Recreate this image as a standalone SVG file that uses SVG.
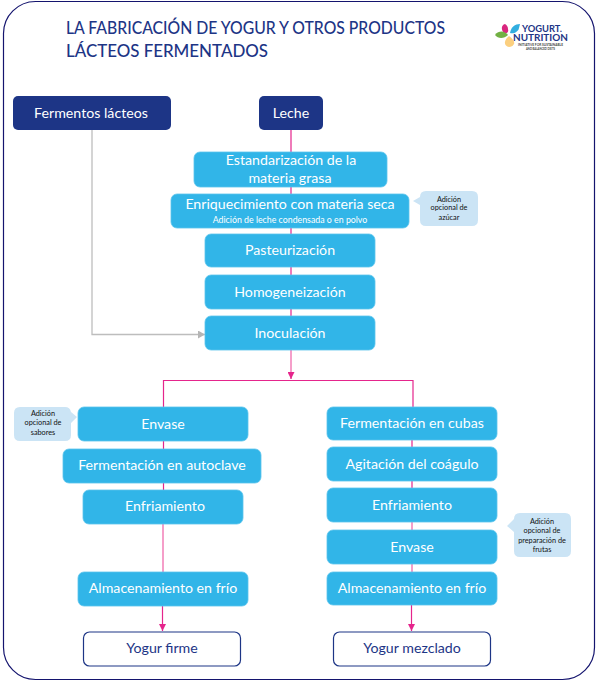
<svg xmlns="http://www.w3.org/2000/svg" width="597" height="687" viewBox="0 0 597 687">
<style>
text{font-family:"Lato","Open Sans","Liberation Sans",sans-serif;text-anchor:middle}
.dark{fill:#1d3586}
.blue{fill:#31b5e8;stroke:#5cc4ec;stroke-width:.8}
.t{fill:#fff;font-size:14.2px}
.bub{fill:#cbe4f5}
.b{fill:#111;font-size:7.3px}
.out{fill:#fff;stroke:#1d3586;stroke-width:1.2}
.d{fill:#1d3586;font-size:14.2px}
.pk{fill:none;stroke:#e5258c;stroke-width:1.2}
.lp{fill:none;stroke:#f27fb8;stroke-width:1.5}
</style>
<defs>
<marker id="ap" markerWidth="8" markerHeight="7" refX="7" refY="3.5" orient="auto" markerUnits="userSpaceOnUse"><path d="M0 0L7 3.5L0 7Z" fill="#e5258c"/></marker>
<marker id="ag" markerWidth="8" markerHeight="8" refX="7" refY="4" orient="auto" markerUnits="userSpaceOnUse"><path d="M0 0L7 4L0 8Z" fill="#b5b5b5"/></marker>
</defs>
<rect x="3.500" y="1.500" width="591" height="678" rx="32" fill="#fff" stroke="#14146e" stroke-width="1.200"/>
<g id="title" class="dark"><text x="66" y="34" style="text-anchor:start;font-size:17.500px;font-weight:500" textLength="379" lengthAdjust="spacingAndGlyphs">LA FABRICACIÓN DE YOGUR Y OTROS PRODUCTOS</text><text x="66" y="57" style="text-anchor:start;font-size:17.500px;font-weight:500" textLength="202" lengthAdjust="spacingAndGlyphs">LÁCTEOS FERMENTADOS</text></g>
<g id="logo">
<path d="M505 24C501 25 501 30 504 33C507 34 509 32 508 29C508 27 507 25 505 24Z" fill="#d9277f"/>
<path d="M520 24C515 24 511 27 510 33C514 34 518 32 519 28Z" fill="#31aee0"/>
<path d="M495 35C499 30 505 31 508 35C504 39 498 39 495 35Z" fill="#72b043"/>
<path d="M509 47C504 46 503 41 509 36C513 39 515 42 514 44C513 46 511 47 509 47Z" fill="#fbcf7f"/>
<text x="542" y="31.500" style="font-size:9px;font-weight:700;fill:#1d3586" textLength="40" lengthAdjust="spacingAndGlyphs">YOGURT.</text>
<text x="540.500" y="41" style="font-size:9px;font-weight:700;fill:#1d3586" textLength="55" lengthAdjust="spacingAndGlyphs">NUTRITION</text>
<text x="540.500" y="46" style="font-size:3px;font-weight:700;fill:#444" textLength="45" lengthAdjust="spacingAndGlyphs">INITIATIVE FOR SUSTAINABLE</text>
<text x="540.500" y="50" style="font-size:3px;font-weight:700;fill:#444" textLength="29" lengthAdjust="spacingAndGlyphs">AND BALANCED DIETS</text>
</g>
<g id="connectors">
<path class="pk" d="M291 130V152M291 187V194M291 228V234M291 267V275M291 309V316"/>
<path class="lp" d="M291 350V372"/>
<path class="pk" d="M291 372V379" marker-end="url(#ap)"/>
<path class="pk" d="M163.500 407V380.500H413V407"/>
<path class="pk" d="M163.500 441V449M163.500 483V490M412 440V447M412 481V488"/>
<path class="lp" d="M163 524V572M412 522V530M412 564V572"/>
<path class="pk" d="M162.500 606V631" marker-end="url(#ap)"/>
<path class="pk" d="M411.500 605V631" marker-end="url(#ap)"/>
<path d="M92 130V334.500H205" fill="none" stroke="#bdbdbd" stroke-width="1.300" marker-end="url(#ag)"/>
</g>
<g id="n-fermentos"><rect class="dark" x="13" y="96" width="158" height="34" rx="5"/><text class="t" x="91" y="118">Fermentos lácteos</text></g>
<g id="n-leche"><rect class="dark" x="259" y="96" width="64" height="34" rx="5"/><text class="t" x="291" y="118">Leche</text></g>
<g id="n-estandarizacion"><rect class="blue" x="194" y="152" width="193" height="35" rx="6"/><text class="t" x="291" y="165">Estandarización de la</text><text class="t" x="290" y="183">materia grasa</text></g>
<g id="n-enriquecimiento"><rect class="blue" x="171" y="194" width="238" height="34" rx="6"/><text class="t" x="290" y="209">Enriquecimiento con materia seca</text><text x="290" y="223" style="fill:#fff;font-size:8.800px">Adición de leche condensada o en polvo</text></g>
<g id="b-azucar"><path class="bub" d="M426 191H472Q478 191 478 197V220Q478 226 472 226H426Q420 226 420 220V205L413 201L420 197Q420 191 426 191Z"/><text class="b" x="449" y="202">Adición</text><text class="b" x="449" y="210">opcional de</text><text class="b" x="449" y="220">azúcar</text></g>
<g id="n-pasteurizacion"><rect class="blue" x="205" y="234" width="170" height="33" rx="6"/><text class="t" x="290" y="255">Pasteurización</text></g>
<g id="n-homogeneizacion"><rect class="blue" x="205" y="275" width="170" height="34" rx="6"/><text class="t" x="290" y="297">Homogeneización</text></g>
<g id="n-inoculacion"><rect class="blue" x="205" y="316" width="170" height="34" rx="6"/><text class="t" x="290" y="338">Inoculación</text></g>
<g id="b-sabores"><path class="bub" d="M20 407H65Q70 407 71 412L77 417L71 423V435Q71 441 65 441H20Q14 441 14 435V413Q14 407 20 407Z"/><text class="b" x="43" y="416">Adición</text><text class="b" x="43" y="425">opcional de</text><text class="b" x="43" y="435">sabores</text></g>
<g id="n-envase1"><rect class="blue" x="78" y="407" width="170" height="34" rx="6"/><text class="t" x="163" y="429">Envase</text></g>
<g id="n-autoclave"><rect class="blue" x="63" y="449" width="198" height="34" rx="6"/><text class="t" x="162" y="470">Fermentación en autoclave</text></g>
<g id="n-enfriamiento1"><rect class="blue" x="83" y="490" width="160" height="34" rx="6"/><text class="t" x="165" y="511">Enfriamiento</text></g>
<g id="n-almacen1"><rect class="blue" x="78" y="572" width="170" height="34" rx="6"/><text class="t" x="163" y="593">Almacenamiento en frío</text></g>
<g id="n-firme"><rect class="out" x="83.500" y="632" width="157" height="34" rx="6"/><text class="d" x="162" y="653">Yogur firme</text></g>
<g id="n-cubas"><rect class="blue" x="327" y="407" width="170" height="33" rx="6"/><text class="t" x="412" y="428">Fermentación en cubas</text></g>
<g id="n-agitacion"><rect class="blue" x="327" y="447" width="170" height="34" rx="6"/><text class="t" x="412" y="469">Agitación del coágulo</text></g>
<g id="n-enfriamiento2"><rect class="blue" x="327" y="488" width="170" height="34" rx="6"/><text class="t" x="412" y="510">Enfriamiento</text></g>
<g id="n-envase2"><rect class="blue" x="327" y="530" width="170" height="34" rx="6"/><text class="t" x="412" y="552">Envase</text></g>
<g id="n-almacen2"><rect class="blue" x="327" y="572" width="170" height="33" rx="6"/><text class="t" x="412" y="593">Almacenamiento en frío</text></g>
<g id="n-mezclado"><rect class="out" x="333.500" y="632" width="157" height="34" rx="6"/><text class="d" x="412" y="653">Yogur mezclado</text></g>
<g id="b-frutas"><path class="bub" d="M520 513H565Q571 513 571 519V551Q571 557 565 557H520Q514 557 514 551V532L507 526L514 519Q514 513 520 513Z"/><text class="b" x="542" y="524">Adición</text><text class="b" x="542" y="533">opcional de</text><text class="b" x="542" y="543">preparación de</text><text class="b" x="542" y="552">frutas</text></g>
</svg>
